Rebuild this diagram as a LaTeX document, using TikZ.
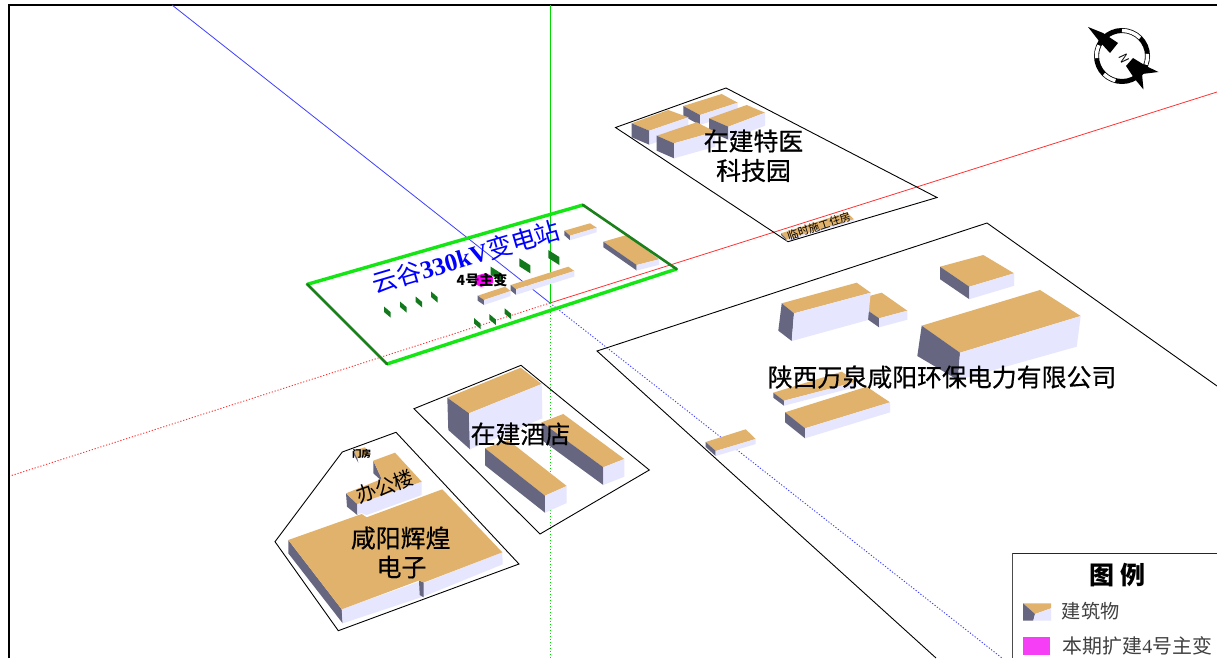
\documentclass[tikz,border=0pt]{standalone}
\usepackage{fontspec}
\usetikzlibrary{calc}
\setmainfont{Noto Sans CJK SC}
\newfontfamily\latinserif{Liberation Serif}
\newfontfamily\cjkheavy[FakeBold=0.5]{Noto Sans CJK SC}
\definecolor{topc}{HTML}{E1B26B}
\definecolor{leftc}{HTML}{666680}
\definecolor{rightc}{HTML}{E6E6FF}
\definecolor{swc}{HTML}{127A1C}
\definecolor{litegreen}{HTML}{14E614}
\definecolor{darkgreen}{HTML}{1B7F1B}
\definecolor{pinkc}{HTML}{F53EF5}
\definecolor{pinkmain}{HTML}{FF00FF}
\newcommand{\fsz}[1]{\fontsize{#1}{#1}\selectfont}
\tikzset{
  topface/.style={fill=topc},
  leftface/.style={fill=leftc},
  rightface/.style={fill=rightc},
  axisline/.style={line width=0.8pt},
  axisdot/.style={line width=0.9pt,dash pattern=on 1.2pt off 1.8pt},
  compound/.style={draw=black,line width=0.9pt,line join=miter},
  biglabel/.style={inner sep=0pt,align=center,font=\fsz{24.9}\cjkheavy},
  swgear/.style={fill=swc}
}
% box with vertical edges: left corner, back, right corner, front, height
\newcommand{\bldg}[5]{%
  \fill[topface] (#1) -- (#2) -- (#3) -- (#4) -- cycle;
  \fill[leftface] (#1) -- (#4) -- ($(#4)+(0,#5)$) -- ($(#1)+(0,#5)$) -- cycle;
  \fill[rightface] (#4) -- (#3) -- ($(#3)+(0,#5)$) -- ($(#4)+(0,#5)$) -- cycle;
}
% box with tapered walls: a,b,c,d on top then a',d',c' at the foot
\newcommand{\bldgx}[7]{%
  \fill[topface] (#1) -- (#2) -- (#3) -- (#4) -- cycle;
  \fill[leftface] (#1) -- (#4) -- (#6) -- (#5) -- cycle;
  \fill[rightface] (#4) -- (#3) -- (#7) -- (#6) -- cycle;
}
\newcommand{\swsmall}[2]{\fill[swgear] (#1,#2) -- ++(6.5,5.5) -- ++(0,5.5) -- ++(-6.5,-5.5) -- cycle;}
\newcommand{\swlarge}[2]{\fill[swgear] (#1,#2) -- ++(11,7) -- ++(0,8) -- ++(-11,-7) -- cycle;}
\begin{document}
\begin{tikzpicture}[x=1pt,y=-1pt]
\useasboundingbox (0,0) rectangle (1217,658);
\fill[white] (0,0) rectangle (1217,658);
% frame
\draw[black,line width=1.2pt] (9,658) -- (9,5) -- (1217,5);
% axes
\coordinate (origin) at (550,303);
\draw[axisline,blue!75!white] (172,5) -- (origin);
\draw[axisdot,blue!75!white] (origin) -- (1002,658);
\draw[axisline,red!80!white] (origin) -- (1217,92);
\draw[axisdot,red!80!white] (origin) -- (10,476);
\draw[axisline,green!85!black] (550,5) -- (origin);
\draw[axisdot,green!85!black] (origin) -- (550,658);
% compounds
\draw[compound] (615.5,127.5) -- (726,88) -- (937,197.5) -- (788,241.7) -- cycle;
\draw[compound] (1217,386) -- (987,223) -- (597,351) -- (936,658);
\draw[compound] (414,408.7) -- (521,365.3) -- (649.3,470) -- (540,534) -- cycle;
\draw[compound] (275,541.7) -- (342.3,452) -- (396,432.3) -- (519,564) -- (338.3,630.7) -- cycle;
% special-medicine park
\bldg{683.3,106}{721.7,94}{737.7,102.7}{700,115}{10}
\bldg{631.7,123.3}{668.3,110}{688.3,117.3}{649.3,130.7}{14}
\bldg{709,118.3}{746.7,105}{765,112.7}{728.3,126.7}{13}
\bldg{656.7,135.7}{696.7,122.3}{715,131.7}{674,143.3}{15}
\bldg{781,233.3}{846.7,212.3}{854,219.3}{786.7,239.3}{1.5}
% substation
\bldg{564.3,230.7}{590,223.3}{596.7,227.7}{570,235.7}{4.5}
\bldg{603.3,241.7}{626.7,235}{659,259.3}{636.7,265}{5.5}
\swsmall{384}{306.5}
\swsmall{400}{301.5}
\swsmall{415.7}{296.5}
\swsmall{431}{291.5}
\swsmall{474}{318}
\swsmall{489.3}{314}
\swsmall{504.7}{308.3}
\swlarge{490.7}{266.7}
\swlarge{519.3}{258.3}
\swlarge{548.3}{250}
\fill[pinkmain] (475,276) -- (486,273) -- (493,277) -- (493,283) -- (481,287) -- (475,284) -- cycle;
\bldg{477.7,295.7}{505,286.7}{510.7,291}{484,300}{5}
\bldg{510.7,285}{568.3,266.7}{574.3,271}{516,289.3}{5.5}
\draw[litegreen,line width=3.4pt,line cap=round] (307.3,284.3) -- (583,205);
\draw[litegreen,line width=3.4pt,line cap=round] (387,364) -- (676.5,269);
\draw[darkgreen,line width=2.6pt,line cap=round] (307.3,284.3) -- (387,364);
\draw[darkgreen,line width=2.6pt,line cap=round] (583,205) -- (676.5,269);
% power plant
\bldgx{853.3,300.3}{881.7,292.7}{907.3,310.7}{879,318.3}{853.3,309.3}{879,327.3}{907.3,319.7}
\bldgx{781.7,303.3}{856.7,282.7}{870.7,292.7}{794,313.3}{778.3,330.7}{791.7,341}{868,320}
\bldg{940,266.7}{983.3,255}{1014,273.3}{969.3,286.7}{12.5}
\bldgx{921.7,325.7}{1040,290}{1080.7,316}{960,352.7}{917.3,356}{958,380}{1076.7,346.7}
\bldg{773.3,392.7}{841.7,371.7}{856.7,381.7}{784,400.7}{5}
\bldg{785,412.3}{866.7,386.7}{890,402.3}{805,428.3}{10}
\bldg{705.7,442}{745.7,429.3}{755.7,439}{715.7,451}{5}
% hotel
\bldgx{447.3,397.7}{520.7,367.7}{541.7,384}{469,413.3}{448.3,430}{470,449.3}{542.3,418.3}
\bldg{541.7,422.3}{563.3,414}{624.3,459}{603.3,467.3}{17.7}
\bldg{485,448.3}{508,440}{566.7,486}{545,495.7}{17}
% gatehouse
\fill[topface] (353.3,450.7) -- (365,447.3) -- (370,455) -- (357.3,458.3) -- cycle;
\fill[leftface] (353.3,450.7) -- (357.3,458.3) -- (358.3,462.7) -- (354,455) -- cycle;
% office
\fill[leftface] (373.3,460.7) -- (381.7,479) -- (384,483) -- (373.3,473.3) -- cycle;
\fill[leftface] (346,493.3) -- (357.3,504) -- (357.3,515) -- (347,506.7) -- cycle;
\fill[rightface] (357.3,504) -- (421.7,481.7) -- (421.7,495) -- (366.7,515) -- (361.7,513.3) -- (357.3,514) -- cycle;
\fill[topface] (346,493.3) -- (381.7,479) -- (373.3,460.7) -- (395,452.7) -- (421.7,481.7) -- (357.3,504) -- cycle;
% electronics factory
\fill[leftface] (288.3,540) -- (341.7,609.3) -- (342.7,623.3) -- (288.3,553.3) -- cycle;
\fill[rightface] (341.7,609.3) -- (419,581.7) -- (424,583) -- (502.3,552.3) -- (502.7,564.3) -- (423.5,596.5) -- (342.7,623.3) -- cycle;
\fill[leftface] (419,580.5) -- (423.7,582.5) -- (423.7,597.3) -- (419.7,595) -- cycle;
\fill[topface] (288.3,540) -- (361.7,514) -- (366.7,517.3) -- (442.3,489.3) -- (502.3,552.3) -- (423.7,582.5) -- (419,580.5) -- (341.7,609.3) -- cycle;
% compass
\coordinate (compass) at (1122,56);
\draw[black,line width=5pt] (compass) circle[radius=25.5];
\draw[white,line width=3.4pt] ($(compass)+(-90:25.5)$) arc[start angle=-90,end angle=-45,radius=25.5];
\draw[white,line width=3.4pt] ($(compass)+(-5:25.5)$) arc[start angle=-5,end angle=20,radius=25.5];
\draw[white,line width=3.4pt] ($(compass)+(105:25.5)$) arc[start angle=105,end angle=135,radius=25.5];
\draw[white,line width=3.4pt] ($(compass)+(175:25.5)$) arc[start angle=175,end angle=205,radius=25.5];
\fill[black] (1088,27) -- (1103,33) -- (1118,43) -- (1110,53) -- (1099,41) -- cycle;
\fill[black] (1133,58) -- (1146,66) -- (1158.5,72) -- (1142,74) -- (1143.5,89.5) -- (1134,78) -- (1126,66) -- cycle;
\node[inner sep=0pt,rotate=-65,font=\fsz{12}] (north) at (1124,59) {N};
% labels
\node[biglabel] (tyk1) at (753.5,141) {在建特医};
\node[biglabel] (tyk2) at (753.5,170.5) {科技园};
\node[inner sep=0pt,rotate=18,font=\fsz{11}] (temp) at (819,226) {临时施工住房};
\node[inner sep=0pt,rotate=16.5,text=blue,font=\fsz{25}] (station) at (466,257) {云谷{\latinserif\bfseries 330kV}变电站};
\node[inner sep=0pt,font=\fsz{14}\bfseries] (main4) at (482,280) {4号主变};
\node[biglabel] (plant) at (942,377) {陕西万泉咸阳环保电力有限公司};
\node[biglabel] (hotel) at (520.5,434) {在建酒店};
\node[biglabel] (hh1) at (400.7,538) {咸阳辉煌};
\node[biglabel] (hh2) at (401.5,567) {电子};
\node[inner sep=0pt,rotate=20,font=\fsz{20}] (office) at (385,486.5) {办公楼};
\node[inner sep=0pt,font=\fsz{9.5}\bfseries] (gate) at (361.5,454) {门房};
% legend
\fill[white] (1012.7,553.3) rectangle (1217,658);
\draw[black!70,line width=1pt] (1012.7,658) -- (1012.7,553.3);
\draw[black!85,line width=1pt] (1012.7,553.3) -- (1217,553.3);
\node[inner sep=0pt,font=\fsz{25}\bfseries] (legtitle) at (1117.5,575) {图 例};
\fill[topface] (1023,603.3) -- (1051,603.3) -- (1051,608.3) -- (1035,614) -- cycle;
\fill[leftface] (1023,603.3) -- (1035,614) -- (1033.3,620.7) -- (1023,620.7) -- cycle;
\fill[rightface] (1035,614) -- (1051,608.3) -- (1051,620.7) -- (1033.3,620.7) -- cycle;
\fill[pinkc] (1022.7,637.3) rectangle (1050,654.7);
\node[inner sep=0pt,anchor=west,text=black!75,font=\fsz{19.2}] (leg1) at (1061.7,611.5) {建筑物};
\node[inner sep=0pt,anchor=west,text=black!75,font=\fsz{19.9}] (leg2) at (1062.5,646) {本期扩建{\latinserif 4}号主变};
\end{tikzpicture}
\end{document}
